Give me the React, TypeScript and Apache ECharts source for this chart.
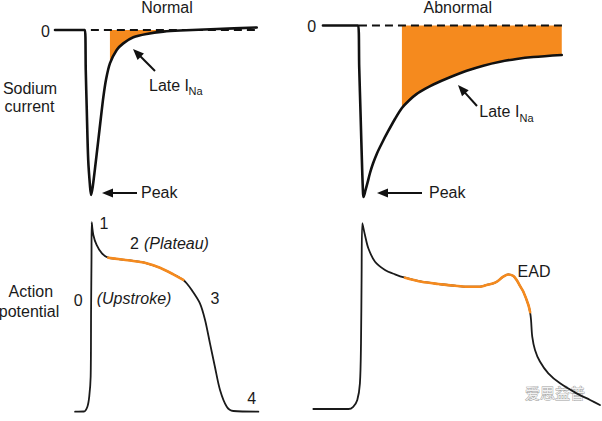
import React, { useEffect, useRef } from "react";
import * as echarts from "echarts";

// ---- Sodium current, normal (time a.u., current % of peak) ----
const naNormalTime = [0, 14.6, 15.0, 15.5, 16.2, 17.1, 17.6, 18.4, 19.5, 21.1, 22.4, 23.6, 24.9, 26.8, 30.1, 33.3, 38.2, 44.7, 52.8, 61, 78.9, 98.4];
const naNormalCurrent = [0, 0, -24.2, -48.5, -78.8, -95, -100, -95, -84, -67, -53, -40.5, -30, -20.2, -12.1, -8.1, -4.4, -2.4, -1.0, -0.3, 0.6, 1.5];
const naNormalLateRange = [26.8, 61];
const naNormalZeroRange = [17.5, 98.4];

// ---- Sodium current, abnormal ----
const naAbnTime = [5.4, 20.1, 20.5, 21.1, 21.7, 22.1, 22.3, 23.1, 24.0, 25.0, 26.25, 27.9, 30, 32.5, 35.4, 38.3, 41.25, 44.5, 47.9, 51.4, 58.3, 65.3, 72.2, 79.2, 86.1, 93, 104.9];
const naAbnCurrent = [0, 0, -24, -53.2, -82.3, -97.8, -100, -96.2, -91.5, -86, -80.5, -74.6, -68.5, -61.8, -54.5, -48.1, -43.7, -39.9, -37, -34.4, -30.2, -26.4, -23.4, -21.1, -19.5, -18.4, -17.2];
const naAbnLateRange = [38.3, 104.9];
const naAbnZeroRange = [20.4, 105.5];

// ---- Action potential, normal (mV) ----
const apNormalTime = [9.8, 14.1, 15.8, 16.7, 17.4, 17.6, 17.8, 17.9, 18.7, 20.3, 22.8, 26, 31.7, 38.2, 44.7, 51.2, 57.7, 62.6, 64.2, 66.7, 70.7, 73.2, 75.6, 78, 80.5, 83.8, 87, 99.2];
const apNormalV = [-85, -84.9, -82, -75.9, -63.7, -23.3, 7.1, 30, 22.3, 16.2, 11.2, 8.5, 7.5, 6.5, 5.1, 2.4, -1.6, -5.0, -7.0, -11.1, -19.2, -29.3, -43.5, -57.7, -71.8, -82, -84.6, -85];
const apNormalPlateauRange = [26, 62.6];

// ---- Action potential, abnormal with EAD ----
const apAbnTime = [1.4, 16, 18, 19.7, 20.8, 21.25, 21.5, 21.8, 22.9, 24.3, 27.1, 31.25, 35.4, 39.6, 46.5, 53.5, 60.4, 65.3, 70.8, 73.6, 76.4, 77.8, 80.5, 82.6, 84.7, 86.1, 87.5, 88.9, 91, 91.7, 92.1, 92.6, 93.75, 95.8, 99.3, 104.2, 111.1, 116.7, 120.8];
const apAbnV = [-85, -85, -83.6, -79.4, -69.1, -44.3, -3.1, 30, 22.7, 14.5, 6.2, 1.1, -1.6, -3.7, -6.2, -7.6, -8.7, -9.3, -9.3, -8.2, -7.2, -6.2, -3.1, -1.7, -2.6, -5.1, -8.8, -12.4, -20.6, -25, -29.9, -40.2, -48.4, -55.6, -62.9, -69.1, -75.3, -79.4, -82.5];
const apAbnEadRange = [39.6, 91.7];

const ORANGE = "#F58A1E";
const INK = "#111111";
const FONT = '"Liberation Sans", Arial, Helvetica, sans-serif';

const zip = (t: number[], v: number[]) => t.map((x, i) => [x, v[i]]);
const within = (t: number[], v: number[], r: number[]) =>
  zip(t, v).filter((p) => p[0] >= r[0] - 1e-9 && p[0] <= r[1] + 1e-9);

function fillSeries(idx: number, pts: number[][]) {
  return {
    type: "custom",
    xAxisIndex: idx,
    yAxisIndex: idx,
    silent: true,
    z: 1,
    data: [[pts[0][0], 0]],
    renderItem: (_p: any, api: any) => {
      const poly = pts.map((p) => api.coord(p));
      poly.push(api.coord([pts[pts.length - 1][0], 0]));
      poly.push(api.coord([pts[0][0], 0]));
      return { type: "polygon", shape: { points: poly }, style: { fill: ORANGE } };
    },
  };
}

function arrow(x1: number, y1: number, x2: number, y2: number) {
  const dx = x2 - x1, dy = y2 - y1;
  const L = Math.hypot(dx, dy);
  const ux = dx / L, uy = dy / L;
  const hl = 11, hw = 4.5;
  const bx = x2 - ux * hl, by = y2 - uy * hl;
  return [
    { type: "line", shape: { x1, y1, x2: bx + ux, y2: by + uy }, style: { stroke: INK, lineWidth: 2 } },
    { type: "polygon", shape: { points: [[x2, y2], [bx - uy * hw, by + ux * hw], [bx + uy * hw, by - ux * hw]] }, style: { fill: INK } },
  ];
}

function txt(text: string, x: number, y: number, align = "left", opts: any = {}) {
  return {
    type: "text",
    silent: true,
    style: {
      text, x, y,
      fill: opts.fill || "#1a1a1a",
      font: `${opts.italic ? "italic " : ""}${opts.size || 16}px ${opts.family || FONT}`,
      fontSize: opts.size || 16,
      fontFamily: opts.family || FONT,
      fontStyle: opts.italic ? "italic" : "normal",
      stroke: opts.stroke,
      lineWidth: opts.lineWidth,
      textAlign: align, align,
      textVerticalAlign: "middle", verticalAlign: "middle",
    },
  };
}

export default function App() {
  const ref = useRef<HTMLDivElement>(null);
  useEffect(() => {
    document.body.style.margin = "0";
    const chart = echarts.init(ref.current!, null, { renderer: "svg" });
    const grids = [
      { left: 55, top: 13.5, width: 205, height: 198 },
      { left: 310, top: 8.35, width: 290.4, height: 205.8 },
      { left: 55, top: 205.8, width: 205, height: 214.1 },
      { left: 310, top: 207.1, width: 290.4, height: 210 },
    ];
    const xr = [[0, 100], [0, 121], [0, 100], [0, 121]];
    const yr = [[-110, 10], [-110, 10], [-90, 40], [-90, 40]];
    const xAxis = xr.map((r, i) => ({ type: "value", gridIndex: i, min: r[0], max: r[1], show: false }));
    const yAxis = yr.map((r, i) => ({ type: "value", gridIndex: i, min: r[0], max: r[1], show: false }));

    const line = (idx: number, data: number[][], color: string, width: number, extra: any = {}) => ({
      type: "line",
      xAxisIndex: idx,
      yAxisIndex: idx,
      data,
      showSymbol: false,
      symbol: "none",
      smooth: 0.3,
      silent: true,
      lineStyle: { color, width, cap: "round", join: "round" },
      z: 3,
      ...extra,
    });

    const graphic: any[] = [
      txt("Normal", 167, 7, "center"),
      txt("Abnormal", 457.7, 7, "center"),
      txt("0", 45.5, 31, "center"),
      txt("0", 311.7, 26, "center"),
      txt("Sodium", 30, 88, "center"),
      txt("current", 29.5, 106.5, "center"),
      txt("Late I", 149, 85),
      txt("Na", 188.5, 91, "left", { size: 11 }),
      txt("Peak", 141, 192),
      txt("Peak", 429, 192),
      txt("Late I", 479.3, 111.7),
      txt("Na", 519.5, 117.5, "left", { size: 11 }),
      txt("1", 104, 223, "center"),
      txt("2", 130, 243.5),
      txt("(Plateau)", 144, 243.5, "left", { italic: true }),
      txt("0", 78.3, 300.7, "center"),
      txt("(Upstroke)", 96.7, 298.5, "left", { italic: true }),
      txt("3", 215, 298.5, "center"),
      txt("4", 251.7, 398.5, "center"),
      txt("Action", 30.8, 291.7, "center"),
      txt("potential", 29, 311.7, "center"),
      txt("EAD", 534, 271.7, "center"),
      txt("爱思益普", 525, 392, "left", { size: 15, family: '"Noto Sans CJK SC", sans-serif', fill: "#f2f2f2", stroke: "#9a9a9a", lineWidth: 0.8 }),
      ...arrow(137, 193, 102, 193),
      ...arrow(155, 71, 133, 49),
      ...arrow(422, 193, 377, 193),
      ...arrow(477, 106, 458, 85),
    ];

    chart.setOption({
      animation: false,
      backgroundColor: "#ffffff",
      grid: grids.map((g) => ({ ...g, containLabel: false })),
      xAxis,
      yAxis,
      series: [
        fillSeries(0, within(naNormalTime, naNormalCurrent, naNormalLateRange)),
        line(0, naNormalZeroRange.map((t) => [t, 0]), INK, 2, { smooth: false, lineStyle: { color: INK, width: 2, type: [8, 5] }, z: 2 }),
        line(0, zip(naNormalTime, naNormalCurrent), INK, 2.6),
        fillSeries(1, within(naAbnTime, naAbnCurrent, naAbnLateRange)),
        line(1, naAbnZeroRange.map((t) => [t, 0]), INK, 2, { smooth: false, lineStyle: { color: INK, width: 2, type: [8, 5] }, z: 2 }),
        line(1, zip(naAbnTime, naAbnCurrent), INK, 2.6),
        line(2, zip(apNormalTime, apNormalV), "#1a1a1a", 1.8),
        line(2, within(apNormalTime, apNormalV, apNormalPlateauRange), ORANGE, 2.6, { z: 4 }),
        line(3, zip(apAbnTime, apAbnV), "#1a1a1a", 1.8),
        line(3, within(apAbnTime, apAbnV, apAbnEadRange), ORANGE, 2.6, { z: 4 }),
      ],
      graphic,
    });
    return () => chart.dispose();
  }, []);
  return <div ref={ref} style={{ width: 602, height: 421 }} />;
}
